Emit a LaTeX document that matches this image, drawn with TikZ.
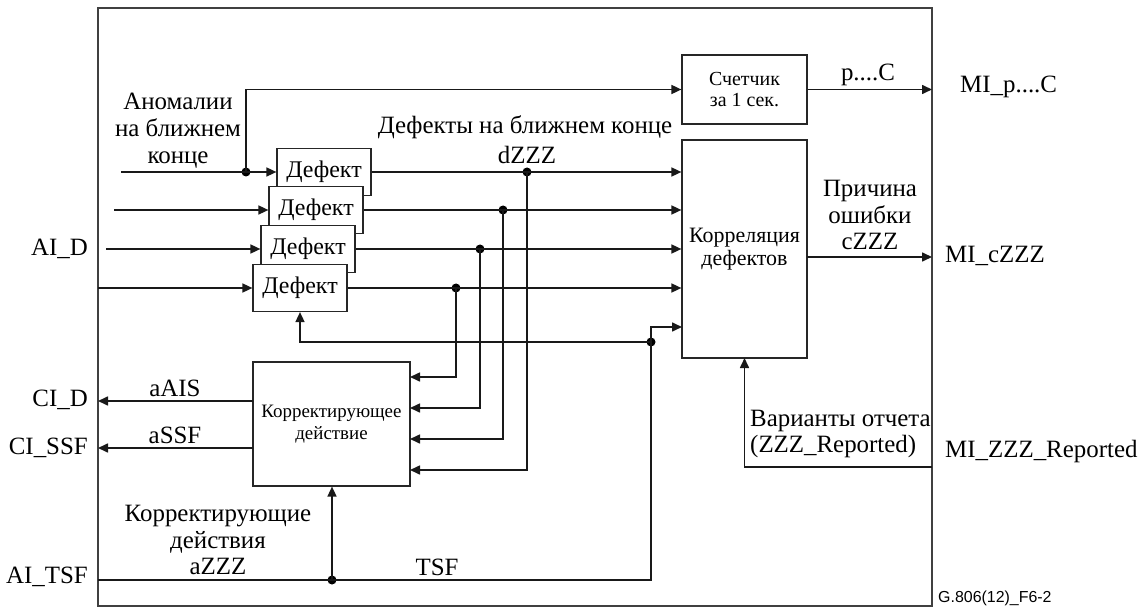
\documentclass[tikz,border=0pt]{standalone}
\usepackage{fontspec}
\setmainfont{Liberation Serif}
\newfontfamily\gsans{Liberation Sans}
\usetikzlibrary{arrows.meta}
\begin{document}
\begin{tikzpicture}[x=1bp,y=-1bp,
  line/.style={line width=1.6bp, draw=black!90},
  arr/.style={line, -{Triangle[length=10bp,width=9bp]}},
  blk/.style={draw=black!85, line width=1.2bp, fill=white, inner sep=0pt, align=center},
  defbox/.style={blk, minimum width=94bp, minimum height=47bp, font=\fontsize{24}{26}\selectfont},
  dot/.style={circle, fill=black, inner sep=0pt, minimum size=9bp},
  lbl/.style={font=\fontsize{25}{27}\selectfont, align=center, inner sep=0pt},
  small/.style={align=center}
]
\useasboundingbox (0,0) rectangle (1141,608);
\fill[white] (0,0) rectangle (1141,608);
% outer frame
\node[draw=black!75, line width=1.2bp, minimum width=834bp, minimum height=598bp, inner sep=0pt] (frame) at (515,307) {};

% blocks
\node[blk, small, font=\fontsize{20}{21}\selectfont, minimum width=125bp, minimum height=69bp] (cnt) at (744.5,89.5) {Счетчик\\за 1 сек.};
\node[blk, small, font=\fontsize{22}{23}\selectfont, minimum width=125bp, minimum height=218bp] (corr) at (744.5,249) {Корреляция\\дефектов};
\node[blk, small, font=\fontsize{19}{22}\selectfont, minimum width=157bp, minimum height=124bp] (ca) at (331.5,424) {Корректирующее\\действие};
\node[defbox] (d1) at (324,172) {Дефект};
\node[defbox] (d2) at (316,210) {Дефект};
\node[defbox] (d3) at (308,249) {Дефект};
\node[defbox] (d4) at (300,288) {Дефект};

% coordinates
\coordinate (in1) at (121,172);
\coordinate (in2) at (114,210);
\coordinate (in3) at (106,249);
\coordinate (in4) at (98,288);
\coordinate (ci1) at (410,377);
\coordinate (ci2) at (410,408);
\coordinate (ci3) at (410,439);
\coordinate (ci4) at (410,470);
\coordinate (cid) at (98,401);
\coordinate (cissf) at (98,448);
\coordinate (caout1) at (253,401);
\coordinate (caout2) at (253,448);
\coordinate (tsfin) at (98,580);
\coordinate (corr5) at (682,327);
\coordinate (corrbot) at (744.5,358);
\coordinate (repin) at (932,467);
\coordinate (outp) at (932,89.5);
\coordinate (outc) at (932,257);
\coordinate (corrout) at (807,257);

% junction dots
\node[dot] (j0) at (246,172) {};
\node[dot] (k1) at (527,172) {};
\node[dot] (k2) at (503,210) {};
\node[dot] (k3) at (480,249) {};
\node[dot] (k4) at (456,288) {};
\node[dot] (jt) at (332,580) {};
\node[dot] (jf) at (651,342) {};

% inputs
\draw[line] (in1) -- (j0.center);
\draw[arr] (j0.center) -- (d1.west);
\draw[arr] (j0.center) |- (cnt.west);
\draw[arr] (in2) -- (d2.west);
\draw[arr] (in3) -- (d3.west);
\draw[arr] (in4) -- (d4.west);

% defect outputs to correlation
\draw[arr] (d1.east) -- (d1.east -| corr.west);
\draw[arr] (d2.east) -- (d2.east -| corr.west);
\draw[arr] (d3.east) -- (d3.east -| corr.west);
\draw[arr] (d4.east) -- (d4.east -| corr.west);

% branches to corrective action
\draw[arr] (k4.center) |- (ci1);
\draw[arr] (k3.center) |- (ci2);
\draw[arr] (k2.center) |- (ci3);
\draw[arr] (k1.center) |- (ci4);

% corrective outputs
\draw[arr] (caout1) -- (cid);
\draw[arr] (caout2) -- (cissf);

% TSF
\draw[line] (tsfin) -- (jt.center);
\draw[arr] (jt.center) -- (ca.south -| jt);
\draw[line] (jt.center) -| (jf.center);
\draw[arr] (jf.center) |- (corr5);
\draw[arr] (jf.center) -| (d4.south);

% outputs
\draw[arr] (cnt.east) -- (outp);
\draw[arr] (corrout) -- (outc);
\draw[arr] (repin) -| (corrbot);

% labels
\node[lbl] (anom) at (178,131) {Аномалии\\на ближнем\\конце};
\node[lbl] (ddef) at (525,127) {Дефекты на ближнем конце};
\node[lbl] (dzzz) at (527,155) {dZZZ};
\node[lbl] (pc) at (868,75) {p....C};
\node[lbl, anchor=west] (mip) at (960,87) {MI\_p....C};
\node[lbl] (prich) at (870,215) {Причина\\ошибки\\cZZZ};
\node[lbl, anchor=west] (micz) at (945,256) {MI\_cZZZ};
\node[lbl, anchor=west, align=left] (var) at (750,434) {Варианты отчета\\(ZZZ\_Reported)};
\node[lbl, anchor=west] (mirep) at (945,452) {MI\_ZZZ\_Reported};
\node[lbl, anchor=east] (aid) at (88,249) {AI\_D};
\node[lbl, anchor=east] (cidl) at (88,400) {CI\_D};
\node[lbl, anchor=east] (cissfl) at (88,448) {CI\_SSF};
\node[lbl, anchor=east] (aitsf) at (88,577) {AI\_TSF};
\node[lbl] (aais) at (175,388) {aAIS};
\node[lbl] (assf) at (175,435) {aSSF};
\node[lbl] (azzz) at (218,540) {Корректирующие\\действия\\aZZZ};
\node[lbl] (tsf) at (437,567) {TSF};
\node[font=\gsans\fontsize{16}{18}\selectfont, anchor=west, inner sep=0pt] (fig) at (938,598) {G.806(12)\_F6-2};
\end{tikzpicture}
\end{document}
